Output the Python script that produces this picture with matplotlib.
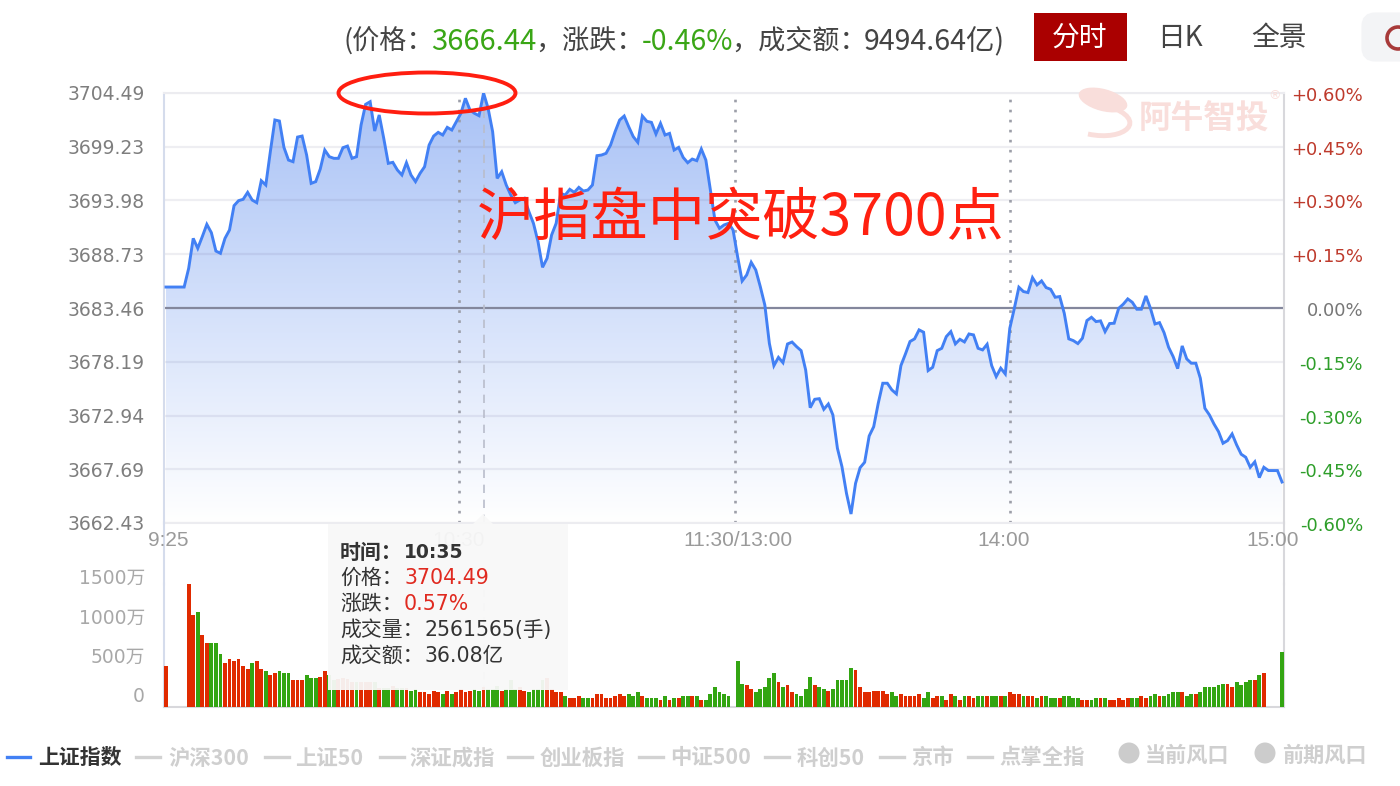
import numpy as np
import matplotlib
matplotlib.use("Agg")
import matplotlib.pyplot as plt
from matplotlib.patches import Ellipse, Circle, Rectangle, Polygon, FancyBboxPatch, PathPatch
from matplotlib.path import Path

plt.rcParams['font.family'] = ['Noto Sans CJK SC', 'DejaVu Sans']

# 1. Data (one value per minute slot, 9:25 -> 15:00)
price = [
    3685.51, 3685.51, 3685.51, 3685.51, 3685.51, 3687.34, 3690.27, 3689.30, 3690.44, 3691.64,
    3690.83, 3689.03, 3688.81, 3690.27, 3691.09, 3693.47, 3693.96, 3694.09, 3694.77, 3694.02,
    3693.76, 3695.91, 3695.49, 3698.75, 3701.85, 3701.75, 3699.17, 3697.93, 3697.77, 3700.18,
    3700.28, 3698.42, 3695.65, 3695.82, 3697.05, 3698.91, 3698.26, 3698.10, 3698.10, 3699.14,
    3699.30, 3698.10, 3698.26, 3701.36, 3703.38, 3703.64, 3700.77, 3702.34, 3700.05, 3697.61,
    3697.71, 3696.96, 3696.47, 3697.67, 3696.47, 3695.82, 3696.63, 3697.28, 3699.40, 3700.28,
    3700.64, 3700.38, 3701.13, 3700.87, 3701.68, 3702.50, 3703.97, 3702.83, 3702.50, 3702.27,
    3704.49, 3702.99, 3700.71, 3696.14, 3696.79, 3695.49, 3694.51, 3693.76, 3694.02, 3694.19,
    3692.88, 3691.74, 3689.95, 3687.44, 3688.32, 3690.60, 3691.74, 3694.67, 3694.51, 3695.07,
    3694.77, 3695.26, 3694.90, 3695.00, 3695.49, 3698.36, 3698.42, 3698.59, 3699.40, 3700.71,
    3701.85, 3702.24, 3701.19, 3700.22, 3699.66, 3702.24, 3701.72, 3701.62, 3700.48, 3701.52,
    3700.38, 3700.54, 3698.91, 3699.17, 3698.19, 3697.67, 3698.03, 3697.87, 3699.01, 3697.93,
    3695.00, 3692.07, 3691.25, 3691.58, 3691.74, 3691.09, 3688.48, 3686.10, 3686.69, 3687.93,
    3687.18, 3685.55, 3683.75, 3680.00, 3677.82, 3678.63, 3678.11, 3679.94, 3680.13, 3679.68,
    3679.29, 3677.40, 3673.71, 3674.53, 3674.59, 3673.55, 3674.07, 3673.00, 3669.74, 3667.94,
    3665.33, 3663.31, 3666.31, 3667.84, 3668.37, 3670.94, 3671.85, 3674.14, 3676.10, 3676.10,
    3675.45, 3675.06, 3677.83, 3678.97, 3680.18, 3680.44, 3681.32, 3681.09, 3677.34, 3677.66,
    3679.29, 3679.52, 3680.66, 3681.15, 3679.95, 3680.40, 3680.14, 3680.92, 3680.83, 3679.52,
    3679.36, 3679.91, 3677.83, 3676.75, 3677.57, 3677.01, 3681.48, 3683.43, 3685.49, 3685.07,
    3684.97, 3686.43, 3685.72, 3686.11, 3685.46, 3685.29, 3684.51, 3684.58, 3682.95, 3680.44,
    3680.27, 3679.98, 3680.50, 3682.23, 3682.55, 3682.13, 3682.20, 3681.15, 3681.94, 3681.97,
    3683.43, 3683.83, 3684.35, 3684.02, 3683.34, 3683.34, 3684.64, 3683.43, 3681.90, 3682.03,
    3681.05, 3679.62, 3678.71, 3677.53, 3679.75, 3678.48, 3678.06, 3678.06, 3676.59, 3673.65,
    3673.00, 3672.12, 3671.37, 3670.23, 3670.49, 3671.14, 3670.07, 3669.16, 3668.86, 3667.88,
    3668.41, 3666.87, 3667.88, 3667.56, 3667.56, 3667.56, 3666.44,
]
# volume in 万手
volume = [
    512, 0, 0, 0, 0, 1537, 1150, 1187, 900, 796,
    796, 796, 662, 554, 600, 575, 600, 512, 471, 554,
    575, 471, 446, 400, 425, 446, 425, 425, 337, 337,
    337, 400, 358, 358, 379, 446, 400, 337, 346, 358,
    346, 312, 312, 312, 312, 312, 312, 233, 233, 233,
    262, 233, 233, 233, 204, 225, 183, 183, 158, 204,
    183, 158, 200, 158, 183, 225, 183, 204, 225, 204,
    256, 225, 225, 262, 204, 225, 337, 225, 254, 204,
    183, 225, 225, 337, 358, 225, 183, 183, 137, 117,
    117, 137, 117, 117, 117, 162, 162, 117, 117, 137,
    162, 137, 162, 137, 183, 137, 117, 117, 117, 92,
    137, 92, 117, 117, 137, 137, 137, 137, 92, 92,
    162, 246, 183, 162, 137, 0, 575, 292, 271, 225,
    183, 225, 246, 358, 425, 312, 246, 271, 183, 162,
    137, 225, 379, 271, 246, 225, 204, 225, 337, 337,
    337, 487, 467, 246, 183, 183, 204, 204, 204, 162,
    183, 137, 162, 137, 137, 137, 162, 117, 183, 117,
    137, 137, 92, 162, 137, 92, 137, 137, 117, 137,
    137, 137, 137, 137, 137, 137, 183, 162, 162, 137,
    137, 137, 117, 137, 137, 117, 117, 117, 137, 137,
    117, 117, 92, 92, 92, 117, 117, 117, 92, 92,
    117, 92, 117, 117, 117, 137, 117, 137, 162, 137,
    137, 162, 183, 183, 183, 137, 162, 162, 183, 246,
    246, 246, 271, 292, 292, 246, 312, 271, 312, 337,
    337, 400, 425, 0, 0, 0, 687,
]
# r = up bar, g = down bar
vol_dir = (
    "rrrrrrrgrr" "gggrrrrrrg" "rrgrrgggrr" "rgggrrggrr" "rrgrrrgrgg"
    "rggrggrrrr" "rgrgrrrrgg" "rgggrgggrr" "ggggrrrrgr" "rrggrrrrrr"
    "rrgggrgggr" "grgrggrgrg" "ggggggggrr" "gggggrgrrg" "gggrggrggg"
    "ggrrrrrrrr" "ggrrrrrggr" "rgrrgrgrrg" "grggrgrrrg" "rrgrgggrgg"
    "ggrrggrgrr" "rrrggrrggr" "ggggrggrgg" "ggggrrgggg" "rgrgggg"
)
price_ticks = [3704.49, 3699.23, 3693.98, 3688.73, 3683.46, 3678.19, 3672.94, 3667.69, 3662.43]
pct_labels = ["+0.60%", "+0.45%", "+0.30%", "+0.15%", "0.00%", "-0.15%", "-0.30%", "-0.45%", "-0.60%"]
vol_labels = ["1500万", "1000万", "500万", "0"]
time_labels = ["9:25", "10:30", "11:30/13:00", "14:00", "15:00"]
session_marks = [64.5, 125.5, 186]   # dotted vertical lines
hover_idx = 70                       # 10:35
prev_close = 3683.46

RED, GREEN = "#E02A00", "#33A512"
x = np.arange(len(price))

# 2. Figure, all layout in pixels of the 1400x786 canvas
W, H = 1400, 786
fig = plt.figure(figsize=(W / 100, H / 100), dpi=100)


def px_axes(left, top, right, bottom):
    return fig.add_axes([left / W, 1 - bottom / H, (right - left) / W, (bottom - top) / H])


ax = px_axes(164, 93, 1284, 523)
vol = px_axes(164, 584, 1284, 707)
pix = fig.add_axes([0, 0, 1, 1], zorder=5)
pix.set_xlim(0, W)
pix.set_ylim(H, 0)
pix.axis("off")
pix.patch.set_alpha(0)

# --- price panel ---
xlim = (-0.44, 246.44)
ax.set_xlim(xlim)
ax.set_ylim(price_ticks[-1], price_ticks[0])
grad = np.linspace(0, 1, 256).reshape(-1, 1)
top_c, bot_c = np.array([169, 194, 246]) / 255, np.array([255, 255, 255]) / 255
rgb = top_c[None, None, :] * (1 - grad[:, :, None]) + bot_c[None, None, :] * grad[:, :, None]
fill = ax.fill_between(x, price, price_ticks[-1], color="none", lw=0)
img = ax.imshow(rgb, extent=[xlim[0], xlim[1], price_ticks[-1], price_ticks[0]], aspect="auto", zorder=1)
img.set_clip_path(fill.get_paths()[0], transform=ax.transData)
for t in price_ticks:
    if t == prev_close:
        continue
    ax.axhline(t, color=(0.25, 0.25, 0.45, 0.085), lw=1.6, zorder=2)
ax.axhline(prev_close, color="#83879C", lw=1.6, zorder=2)
for m in session_marks:
    ax.axvline(m, color="#9C9EA8", lw=1.9, ls=(0, (1, 2.8)), zorder=2)
ax.axvline(hover_idx, color="#B9BDCB", lw=1.2, ls=(0, (5, 4)), zorder=2)
ax.plot(x, price, color="#4280F4", lw=2.1, zorder=3, solid_joinstyle="miter")
ax.set_xticks([])
ax.set_yticks([])
for s, c in zip(["left", "top", "right", "bottom"], ["#D5DCEC", "#ECECF0", "#D8D8DC", "#ECECF0"]):
    ax.spines[s].set_color(c)
    ax.spines[s].set_linewidth(1.5)

for t, lab in zip(price_ticks, pct_labels):
    c = "#777777" if lab == "0.00%" else ("#BE3A2C" if lab[0] == "+" else "#2E9E2A")
    ax.annotate(lab, xy=(1, t), xycoords=ax.get_yaxis_transform(), xytext=(79, -3),
                textcoords="offset pixels", ha="right", va="center", color=c,
                fontsize=13, family=["DejaVu Sans"])
    ax.annotate(f"{t:.2f}", xy=(0, t), xycoords=ax.get_yaxis_transform(), xytext=(-19, -2),
                textcoords="offset pixels", ha="right", va="center", color="#7E7E7E",
                fontsize=13.5, family=["DejaVu Sans"])

# --- volume panel ---
vol.bar(x, volume, width=0.84, color=[RED if d == "r" else GREEN for d in vol_dir], lw=0, zorder=3)
vol.axvline(hover_idx, color="#CFD2DC", lw=1.1, ls=(0, (5, 4)), zorder=2)
vol.set_xlim(xlim)
vol.set_ylim(0, 1537.5)
vol.set_xticks([])
vol.set_yticks([])
vol.spines["top"].set_visible(False)
for s, c in zip(["left", "right", "bottom"], ["#D5DCEC", "#D8D8DC", "#D8D8DC"]):
    vol.spines[s].set_color(c)
    vol.spines[s].set_linewidth(1.5)

# side rules run on through the time axis band
pix.plot([164, 164], [523, 584], color="#D5DCEC", lw=1.5, zorder=0.5)
pix.plot([1284, 1284], [523, 584], color="#D8D8DC", lw=1.5, zorder=0.5)

for lab, yy in zip(vol_labels, [578, 618, 657, 697]):
    pix.text(145, yy, lab, ha="right", va="center", fontsize=13.5, color="#A8A8A8",
             family=["DejaVu Sans", "Noto Sans CJK SC"])

# time axis labels (10:30 sits under the tooltip)
for lab, xx in zip(time_labels, [168, 459, 738, 1004, 1273]):
    pix.text(xx, 540, lab, ha="center", va="center", fontsize=15, color="#9A9A9A",
             family=["Liberation Sans"], zorder=1)

# --- tooltip ---
pix.add_patch(Rectangle((328, 524), 240, 166, fc="#F8F8F8", ec="none", alpha=0.95, zorder=2))
pix.add_patch(Polygon([[473, 524], [483, 514], [493, 524]], fc="#F8F8F8", ec="none", alpha=0.95, zorder=2))
tip_font = ["DejaVu Sans", "Noto Sans CJK SC"]
tip_font_cjk = ["Noto Sans CJK SC", "DejaVu Sans"]
pix.text(340, 552, "时间：", fontsize=15, fontweight="bold", color="#333333", va="center", family=tip_font_cjk, zorder=3)
pix.text(404, 552, "10:35", fontsize=13.5, fontweight="bold", color="#333333", va="center", family=tip_font, zorder=3)
rows = [("价格：", "3704.49", 578, "#E02A20", 404), ("涨跌：", "0.57%", 604, "#E02A20", 404),
        ("成交量：", "2561565(手)", 630, "#333333", 425), ("成交额：", "36.08亿", 656, "#333333", 425)]
for head, val, yy, col, xv in rows:
    pix.text(340, yy, head, fontsize=15, color="#333333", va="center", family=tip_font_cjk, zorder=3)
    pix.text(xv, yy, val, fontsize=14.8, color=col, va="center", family=tip_font, zorder=3)

# --- header ---
head_font = ["Noto Sans CJK SC", "DejaVu Sans"]
head_parts = [(344, "(价格：", "#444444", 19.5), (431, "3666.44", "#3AA616", 21), (535, "，涨跌：", "#444444", 19.5),
              (642, "-0.46%", "#3AA616", 20.5), (731, "，成交额：", "#444444", 19.5), (864, "9494.64亿)", "#444444", 20.5)]
for xx, s, c, fs in head_parts:
    pix.text(xx, 42, s, fontsize=fs, color=c, va="center", family=head_font)

pix.add_patch(Rectangle((1034, 13), 93, 48, fc="#AA0000", ec="none"))
pix.text(1080, 38, "分时", fontsize=20, color="white", ha="center", va="center", family=head_font)
pix.text(1180, 38, "日K", fontsize=20, color="#444444", ha="center", va="center", family=head_font)
pix.text(1279, 38, "全景", fontsize=20, color="#444444", ha="center", va="center", family=head_font)
pix.add_patch(FancyBboxPatch((1367, 18), 60, 38, boxstyle="round,pad=0,rounding_size=8", fc="#F3F4F6", ec="#F3F4F6", lw=8))
pix.add_patch(Circle((1398, 38), 11, fc="none", ec="#A83A3A", lw=2.6))

# --- watermark ---
wm = "#F9DEDB"
pix.add_patch(Ellipse((1103, 100), 50, 22, angle=15, fc=wm, ec="none", zorder=0.5))
pix.add_patch(PathPatch(Path([(1108, 106), (1150, 120), (1125, 142), (1088, 134)],
                             [Path.MOVETO, Path.CURVE4, Path.CURVE4, Path.CURVE4]),
                        fc="none", ec=wm, lw=3.5, zorder=0.5))
pix.text(1204, 119, "阿牛智投", fontsize=23.5, fontweight="bold", color=wm, ha="center", va="center", family=head_font, zorder=0.5)
pix.text(1275, 96, "®", fontsize=9, color=wm, ha="center", va="center", family=["DejaVu Sans"], zorder=0.5)

# --- annotations added on top of the screenshot ---
pix.add_patch(Ellipse((427, 93), 177, 41, fc="none", ec="#FF1E10", lw=2.8, zorder=6))
pix.text(477, 219, "沪指盘中突破3700点", fontsize=41.2, color="#FF2010", va="center", family=head_font, zorder=6)

# --- legend row ---
pix.plot([7, 30], [757, 757], color="#4280F4", lw=2.4)
pix.text(38, 758, "上证指数", fontsize=15, fontweight="bold", color="#333333", va="center", family=head_font)
legend_items = [("沪深300", 136, 168), ("上证50", 265, 295), ("深证成指", 380, 409), ("创业板指", 508, 540),
                ("中证500", 639, 670), ("科创50", 765, 797), ("京市", 880, 911), ("点掌全指", 968, 999)]
for lab, lx, tx in legend_items:
    pix.plot([lx, lx + 24], [757, 757], color="#D2D2D2", lw=2.4)
    pix.text(tx, 758, lab, fontsize=15.4, fontweight="bold", color="#CFCFCF", va="center", family=head_font)
for lab, cx, tx in [("当前风口", 1129, 1145), ("前期风口", 1265, 1282)]:
    pix.add_patch(Ellipse((cx, 753), 21, 21, fc="#CCCCCC", ec="none"))
    pix.text(tx, 755, lab, fontsize=15.2, fontweight="bold", color="#CFCFCF", va="center", family=head_font)

pix.set_xlim(0, W)
pix.set_ylim(H, 0)
fig.savefig("out.png", dpi=100)
